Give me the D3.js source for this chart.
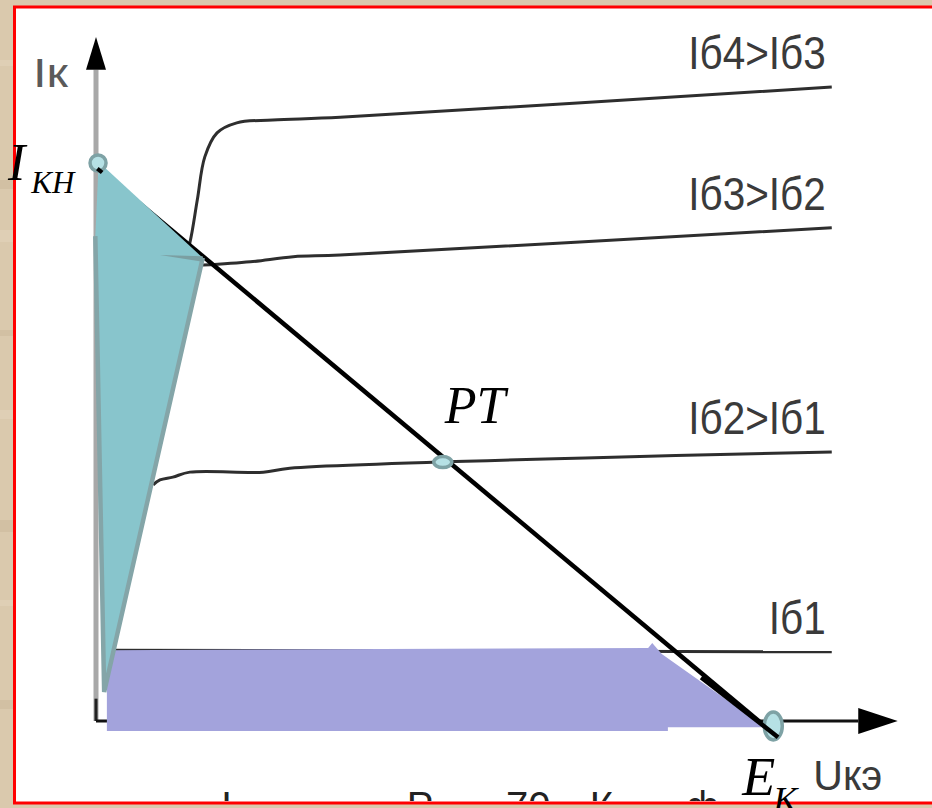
<!DOCTYPE html>
<html>
<head>
<meta charset="utf-8">
<script src="https://cdn.jsdelivr.net/npm/d3@7"></script>
<style>
body { margin: 0; background: #dac9ad; }
svg { display: block; }
</style>
</head>
<body>
<div id="chart"></div>
<script>
const WIDTH = 932, HEIGHT = 808;

// output characteristics, points are [Uкэ, Iк]
const curveIb4 = [[1.29, 8.23], [1.38, 8.57], [1.49, 9.34], [1.60, 10.11], [1.78, 10.54], [2.07, 10.72], [2.60, 10.77], [3.59, 10.82], [10.82, 11.36]];
const curveIb3 = [[1.57, 8.17], [2.27, 8.23], [2.90, 8.32], [3.59, 8.35], [10.82, 8.84]];
const curveIb2 = [[0.84, 4.23], [0.94, 4.32], [1.13, 4.37], [1.38, 4.46], [2.46, 4.46], [2.85, 4.53], [10.82, 4.82]];
const curveIb1 = [[0.16, 1.27], [10.82, 1.24]];
const curveNames = ["Iб4>Iб3", "Iб3>Iб2", "Iб2>Iб1", "Iб1"];

// load line and its points
const loadLine = [[0, 9.93], [10.03, -0.29]];
const pointIKH = [0.03, 10.0];
const pointPT = [5.10, 4.64];
const pointEK = [9.96, -0.09];

// shaded regions (saturation, cut-off)
const saturationArea = [[0.04, 10.02], [1.57, 8.30], [0.12, 0.52], [-0.01, 8.69]];
const saturationNotch = [[0.94, 8.35], [1.57, 8.33], [1.57, 8.23]];
const cutoffArea = [[0.16, 1.27], [8.12, 1.31], [8.18, 1.40], [8.32, 1.20], [9.84, -0.11], [8.41, -0.11], [8.41, -0.18], [0.16, -0.18]];

// axes ends
const yAxisEnd = [11.67, 12.26];   // arrow base, tip (Iк)
const xAxisEnd = [11.21, 11.79];   // arrow base, tip (Uкэ)

// text cut off by the frame at the bottom
const footTexts = ["I", "Р", "70", "К", "ф"];
const footU = [1.84, 4.57, 6.03, 7.26, 8.68];

const x = d3.scaleLinear().domain([0, 12]).range([96, 912]);
const y = d3.scaleLinear().domain([0, 12]).range([721, 51.4]);

const svg = d3.select("#chart").append("svg")
    .attr("width", WIDTH).attr("height", HEIGHT);

svg.append("rect").attr("width", WIDTH).attr("height", HEIGHT).attr("fill", "#dac9ad");
// parchment streaks
[60, 180, 230, 330, 410, 520, 600, 700].forEach(function (v, i) {
    svg.append("rect").attr("x", 0).attr("y", v).attr("width", 14).attr("height", 6 + (i % 3) * 3)
        .attr("fill", i % 2 ? "#cdbb9d" : "#e2d3ba").attr("opacity", 0.6);
});
svg.append("rect").attr("x", 14.5).attr("y", 7).attr("width", 930).attr("height", 796)
    .attr("fill", "#ffffff").attr("stroke", "#ff0000").attr("stroke-width", 3);

svg.append("defs").append("clipPath").attr("id", "inner")
    .append("rect").attr("x", 16).attr("y", 9).attr("width", 920).attr("height", 792);

const curveLine = d3.line().x(d => x(d[0])).y(d => y(d[1])).curve(d3.curveCatmullRom.alpha(0.5));
const polyLine = d3.line().x(d => x(d[0])).y(d => y(d[1]));

// y axis
svg.append("line")
    .attr("x1", x(0)).attr("x2", x(0)).attr("y1", y(0)).attr("y2", y(yAxisEnd[0]))
    .attr("stroke", "#a8a8a8").attr("stroke-width", 5);
svg.append("line")
    .attr("x1", x(0)).attr("x2", x(0)).attr("y1", y(0)).attr("y2", y(0.4))
    .attr("stroke", "#222").attr("stroke-width", 3);
svg.append("path")
    .attr("d", "M" + x(0) + "," + y(yAxisEnd[1]) + "L" + (x(0) - 10) + "," + y(yAxisEnd[0]) + "L" + (x(0) + 10) + "," + y(yAxisEnd[0]) + "Z")
    .attr("fill", "#000");

// x axis
svg.append("line")
    .attr("x1", x(0)).attr("x2", x(xAxisEnd[0])).attr("y1", y(0)).attr("y2", y(0))
    .attr("stroke", "#111").attr("stroke-width", 3);
svg.append("path")
    .attr("d", "M" + x(xAxisEnd[1]) + "," + y(0) + "L" + x(xAxisEnd[0]) + "," + (y(0) - 13) + "L" + x(xAxisEnd[0]) + "," + (y(0) + 13) + "Z")
    .attr("fill", "#000");

// characteristics
const curves = [curveIb4, curveIb3, curveIb2, curveIb1];
curves.forEach(function (c, i) {
    svg.append("path").datum(c)
        .attr("d", curveLine)
        .attr("fill", "none")
        .attr("stroke", "#2e2e2e")
        .attr("stroke-width", 3);
    const end = c[c.length - 1];
    const t = svg.append("text")
        .attr("x", x(end[0]) - 6)
        .attr("y", y(end[1]) - 18)
        .attr("text-anchor", "end")
        .attr("font-family", "Liberation Sans, Arial, sans-serif")
        .attr("font-size", 46)
        .attr("fill", "#3a3a3a")
        .text(curveNames[i]);
    t.attr("textLength", t.node().getComputedTextLength() * 0.88).attr("lengthAdjust", "spacingAndGlyphs");
});

// cut-off region
svg.append("path").datum(cutoffArea)
    .attr("d", d => polyLine(d) + "Z")
    .attr("fill", "#a3a3dc");

// load line
svg.append("path").datum(loadLine)
    .attr("d", polyLine)
    .attr("stroke", "#000").attr("stroke-width", 4.5).attr("fill", "none");

// saturation region
svg.append("path").datum(saturationArea)
    .attr("d", d => polyLine(d) + "Z")
    .attr("fill", "#88c5cc");
svg.append("path").datum(saturationArea.slice(1))
    .attr("d", polyLine)
    .attr("fill", "none").attr("stroke", "#84a5a8").attr("stroke-width", 4.5);
svg.append("path").datum(saturationNotch)
    .attr("d", d => polyLine(d) + "Z")
    .attr("fill", "#7b9fa2");

// points
function marker(p, rx, ry) {
    svg.append("ellipse")
        .attr("cx", x(p[0])).attr("cy", y(p[1]))
        .attr("rx", rx).attr("ry", ry)
        .attr("fill", "#b6e1e5").attr("stroke", "#7ea2a5").attr("stroke-width", 3.5);
}
marker(pointEK, 9, 14);
svg.append("path").datum([[8.9, 0.78], loadLine[1]])
    .attr("d", polyLine)
    .attr("stroke", "#000").attr("stroke-width", 4.5).attr("fill", "none");
marker(pointIKH, 8, 8);
svg.append("path").datum([[0.02, 9.9], [0.09, 9.83]])
    .attr("d", polyLine)
    .attr("stroke", "#000").attr("stroke-width", 4).attr("fill", "none");
marker(pointPT, 9, 5.5);

// axis names
svg.append("text")
    .attr("x", x(0) - 63).attr("y", y(yAxisEnd[0]) + 17)
    .attr("font-family", "Liberation Sans, Arial, sans-serif").attr("font-size", 40)
    .attr("fill", "#5a5a5a").attr("textLength", 35).attr("lengthAdjust", "spacingAndGlyphs")
    .text("Iк");
svg.append("text")
    .attr("x", x(xAxisEnd[0]) - 45).attr("y", y(0) + 69)
    .attr("font-family", "Liberation Sans, Arial, sans-serif").attr("font-size", 42)
    .attr("fill", "#3a3a3a").attr("textLength", 69).attr("lengthAdjust", "spacingAndGlyphs")
    .text("Uкэ");

// point names
const serif = "Liberation Serif, Times New Roman, serif";
const ikh = svg.append("text")
    .attr("x", x(0) - 88).attr("y", y(pointIKH[1]) + 17)
    .attr("font-family", serif).attr("font-style", "italic").attr("fill", "#000");
ikh.append("tspan").attr("font-size", 52).text("I");
ikh.append("tspan").attr("font-size", 31).attr("dx", 6).attr("dy", 13).text("KH");

svg.append("text")
    .attr("x", x(pointPT[0]) + 2).attr("y", y(pointPT[1]) - 39)
    .attr("font-family", serif).attr("font-style", "italic").attr("font-size", 52).attr("fill", "#000")
    .text("PT");

const ek = svg.append("text")
    .attr("x", x(pointEK[0]) - 31).attr("y", y(pointEK[1]) + 69)
    .attr("font-family", serif).attr("font-style", "italic").attr("fill", "#000");
ek.append("tspan").attr("font-size", 54).text("E");
ek.append("tspan").attr("font-size", 36).attr("dx", -2).attr("dy", 17).text("K");

// bottom text cut off by the frame
const foot = svg.append("g").attr("clip-path", "url(#inner)");
footTexts.forEach(function (t, i) {
    foot.append("text")
        .attr("x", x(footU[i])).attr("y", 820)
        .attr("font-family", "Liberation Sans, Arial, sans-serif").attr("font-size", 40)
        .attr("fill", "#222").text(t);
});
</script>
</body>
</html>
